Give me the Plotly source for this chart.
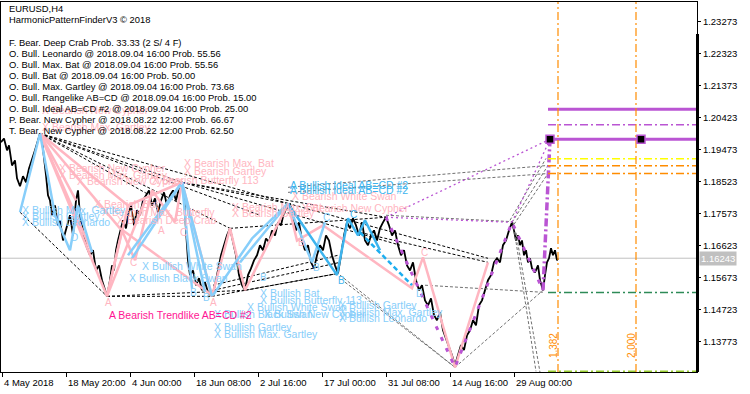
import plotly.graph_objects as go

# ---------------- data ----------------
bar_x = [1,4,7,9,12,15,17,20,23,26,29,32,35,38,40,
         42,44,46,48,50,52,55,58,60,63,66,70,73,76,78,80,83,86,90,93,96,99,102,105,107,
         110,112,114,116,118,120,123,126,128,131,134,137,140,143,146,149,152,155,158,161,164,167,170,173,176,179,182,
         184,186,188,190,193,196,199,202,205,208,212,
         215,218,221,224,227,230,233,236,239,242,245,248,251,254,257,260,263,266,269,272,275,278,281,284,287,290,
         293,296,299,302,305,308,311,314,317,320,323,326,329,332,335,338,341,344,347,350,353,356,359,362,365,368,371,374,377,380,383,386,
         389,392,395,398,401,404,407,410,413,416,419,422,425,428,431,434,437,440,443,446,449,452,455,
         458,461,464,467,470,473,476,479,482,485,488,491,494,497,500,503,506,509,512,
         514,516,518,520,522,524,526,528,530,532,535,538,540,543,545,547,549,551,553,555,557,558]
close = [1.1969,1.1980,1.1945,1.1960,1.1900,1.1915,1.1862,1.1838,1.1868,1.1850,1.1891,1.1915,1.1945,1.1975,1.1995,
         1.1975,1.1930,1.1871,1.1811,1.1796,1.1752,1.1781,1.1722,1.1737,1.1677,1.1707,1.1752,1.1692,1.1796,1.1826,1.1752,1.1707,1.1663,1.1633,1.1648,1.1588,1.1603,1.1559,1.1529,1.1511,
         1.1559,1.1603,1.1588,1.1648,1.1677,1.1701,1.1737,1.1713,1.1752,1.1781,1.1722,1.1767,1.1752,1.1796,1.1811,1.1826,1.1781,1.1802,1.1761,1.1796,1.1820,1.1781,1.1811,1.1826,1.1796,1.1832,1.1850,
         1.1811,1.1707,1.1618,1.1574,1.1588,1.1544,1.1565,1.1529,1.1553,1.1523,1.1511,
         1.1544,1.1588,1.1633,1.1663,1.1692,1.1713,1.1677,1.1633,1.1574,1.1544,1.1529,1.1574,1.1594,1.1618,1.1633,1.1663,1.1648,1.1683,1.1672,1.1707,1.1692,1.1731,1.1722,1.1761,1.1773,1.1787,
         1.1752,1.1707,1.1731,1.1677,1.1648,1.1663,1.1612,1.1594,1.1633,1.1663,1.1648,1.1692,1.1677,1.1633,1.1603,1.1579,1.1633,1.1692,1.1731,1.1713,1.1743,1.1722,1.1692,1.1731,1.1677,1.1663,1.1692,1.1707,1.1677,1.1713,1.1731,1.1746,
         1.1722,1.1692,1.1707,1.1663,1.1633,1.1648,1.1603,1.1588,1.1612,1.1559,1.1529,1.1544,1.1499,1.1484,1.1505,1.1455,1.1440,1.1464,1.1410,1.1386,1.1366,1.1336,1.1306,
         1.1336,1.1366,1.1351,1.1395,1.1410,1.1440,1.1425,1.1484,1.1499,1.1529,1.1559,1.1574,1.1612,1.1624,1.1612,1.1663,1.1677,1.1707,1.1731,
         1.1707,1.1677,1.1692,1.1663,1.1677,1.1633,1.1648,1.1612,1.1624,1.1594,1.1582,1.1603,1.1559,1.1529,1.1574,1.1612,1.1624,1.1654,1.1633,1.1648,1.1618,1.1624]

x_tick_pos = [2, 66, 130, 194, 258, 322, 386, 450, 514]
x_tick_labels = ["4 May 2018", "18 May 20:00", "4 Jun 00:00", "18 Jun 08:00", "2 Jul 16:00",
                 "17 Jul 00:00", "31 Jul 08:00", "14 Aug 16:00", "29 Aug 00:00"]
y_tick_vals = [1.23273, 1.22323, 1.21373, 1.20423, 1.19473, 1.18523, 1.17573, 1.16623, 1.15673, 1.14723, 1.13773]
y_range = [1.128605, 1.238586]
x_range = [1, 697]
current_price = 1.16243

info_lines = ["EURUSD,H4", "HarmonicPatternFinderV3 © 2018", "",
              "F. Bear. Deep Crab Prob. 33.33 (2 S/ 4 F)",
              "O. Bull. Leonardo @ 2018.09.04 16:00 Prob. 55.56",
              "O. Bull. Max. Bat @ 2018.09.04 16:00 Prob. 55.56",
              "O. Bull. Bat @ 2018.09.04 16:00 Prob. 50.00",
              "O. Bull. Max. Gartley @ 2018.09.04 16:00 Prob. 73.68",
              "O. Bull. Rangelike AB=CD @ 2018.09.04 16:00 Prob. 15.00",
              "O. Bull. Ideal AB=CD #2 @ 2018.09.04 16:00 Prob. 25.00",
              "P. Bear. New Cypher @ 2018.08.22 12:00 Prob. 66.67",
              "T. Bear. New Cypher @ 2018.08.22 12:00 Prob. 62.50"]

# bearish (pink) pattern legs
pink_x = [[40,107],[40,92],[40,76],[40,120],[40,128,182],[107,122,135,152,175,182],[107,128],[107,145],
          [120,212],[182,212,230,245,288],[288,297,323,412,423,455,488]]
pink_y = [[1.1995,1.1511],[1.1995,1.1642],[1.1995,1.1796],[1.1995,1.1713],[1.1995,1.1781,1.1850],
          [1.1511,1.1707,1.1618,1.1826,1.1731,1.1850],[1.1511,1.1781],[1.1511,1.1796],
          [1.1713,1.1514],[1.1850,1.1511,1.1713,1.1529,1.1787],[1.1787,1.1677,1.1722,1.1535,1.1627,1.1300,1.1612]]
# bullish (light blue) pattern legs
blue_x = [[20,40,55,70,78,92],[128,182],[132,182],[182,192],[182,205],[182,212],[213,252,288],[240,288],
          [288,312,325]]
blue_y = [[1.1761,1.1995,1.1752,1.1648,1.1781,1.1642],[1.1633,1.1850],[1.1624,1.1850],[1.1850,1.1535],
          [1.1850,1.1523],[1.1850,1.1511],[1.1514,1.1683,1.1787],[1.1612,1.1787],[1.1787,1.1612,1.1731]]
cyan_x = [[288,337,348,358,365,380]]
cyan_y = [[1.1787,1.1574,1.1743,1.1692,1.1737,1.1648]]
cyan_dash_x = [[360,412]]
cyan_dash_y = [[1.1701,1.1544]]
# black dashed projection lines
bdash_x = [[40,288],[40,260],[40,230],[40,182],[40,150],[20,107],[107,212],[107,245],[182,288],[182,386],
           [182,400],[212,338],[213,340],[213,338],[230,386],[288,488],[360,488],[245,338]]
bdash_y = [[1.1995,1.1787],[1.1995,1.1752],[1.1995,1.1713],[1.1995,1.1850],[1.1995,1.1811],[1.1761,1.1511],
           [1.1511,1.1511],[1.1511,1.1529],[1.1850,1.1787],[1.1850,1.1746],[1.1850,1.1663],[1.1511,1.1579],
           [1.1529,1.1612],[1.1544,1.1633],[1.1713,1.1746],[1.1787,1.1624],[1.1701,1.1612],[1.1529,1.1579]]
# gray dashed projection lines
gdash_x = [[288,548],[288,548],[514,548],[512,548],[510,546],[513,536],[516,540],[455,543],[425,543],
           [340,455],[345,455],[386,512]]
gdash_y = [[1.1835,1.1900],[1.1820,1.1876],[1.1725,1.1876],[1.1731,1.1900],[1.1737,1.1921],[1.1731,1.1288],
           [1.1700,1.1285],[1.1300,1.1529],[1.1544,1.1523],[1.1574,1.1300],[1.1553,1.1300],[1.1752,1.1733]]
# purple (current pattern) legs
purple_dot_x = [[386,550],[386,512],[512,550]]
purple_dot_y = [[1.1746,1.1978],[1.1746,1.1731],[1.1731,1.1978]]
purple_leg_x = [386,455,512,543]
purple_leg_y = [1.1746,1.1300,1.1731,1.1529]
purple_d_x = [543,550]
purple_d_y = [1.1529,1.1978]
square_x = [550, 641]
square_y = [1.1978, 1.1978]

# horizontal levels (price, colour, width, dash)
level_start = 548
level_prices = [1.2067, 1.2021, 1.1978, 1.1920, 1.1899, 1.1876, 1.1522, 1.1288]
level_colors = ["#BA55D3", "#BA55D3", "#BA55D3", "#FFFF00", "#FF8C00", "#FF8C00", "#2E8B57", "#9ACD32"]
level_widths = [3, 1.5, 3, 1.5, 1.5, 1.5, 1.5, 1.5]
level_dash = ["solid", "dd", "solid", "dd", "dd", "dd", "dd", "dd"]
fib_x = [558, 636]
fib_labels = ["1.382", "2.000"]
fib_label_x = [553, 631]
fib_label_y = 1.1363

# pattern text labels
pink_labels = [("X Bearish New Cypher", 40, 1.2064), ("X Bearish Max. Gartley", 40, 1.2013),
               ("X Bearish New Cypher", 57, 1.1891), ("X Bearish Max. Gartley", 57, 1.1871),
               ("X Bearish New Cypher", 75, 1.1853), ("X Bearish Butterfly 113", 150, 1.1856),
               ("X Bearish Max. Bat", 182, 1.1906), ("X Bearish Gartley", 182, 1.1885),
               ("X Bearish Bat", 92, 1.1784), ("X Bearish Max. Butterfly", 100, 1.1761),
               ("X Bearish Deep Crab", 115, 1.1737), ("X Bearish Max. Bat", 230, 1.1778),
               ("X Bearish Gartley", 230, 1.1760), ("X Bearish White Swan", 290, 1.1808),
               ("X Bearish New Cypher", 300, 1.1775)]
blue_labels = [("X Bullish Max. Gartley", 20, 1.1767), ("X Bullish Gartley", 20, 1.1749),
               ("X Bullish Leonardo", 20, 1.1731), ("X Bullish White Swan", 140, 1.1600),
               ("X Bullish Black Swan", 127, 1.1565), ("X Bullish Bat", 258, 1.1520),
               ("X Bullish Butterfly 113", 258, 1.1499), ("X Bullish White Swan", 245, 1.1478),
               ("X Bullish Black Swan", 212, 1.1458), ("X Bullish New Cypher", 262, 1.1458),
               ("X Bullish Gartley", 212, 1.1419), ("X Bullish Max. Gartley", 212, 1.1398),
               ("X Bullish Gartley", 337, 1.1484), ("X Bullish Max. Gartley", 337, 1.1464),
               ("X Bullish Leonardo", 337, 1.1446)]
cyan_labels = [("A Bullish Ideal AB=CD #2", 288, 1.1841), ("A Bullish Ideal AB=CD #2", 288, 1.1826)]
deep_pink_labels = [("A Bearish Trendlike AB=CD #2", 107, 1.1455)]
pink_letters = [("A", 107, 1.1493), ("A", 212, 1.1493), ("C", 182, 1.1701), ("A", 160, 1.1707), ("C", 132, 1.1612),
                ("B", 300, 1.1670), ("C", 423, 1.1640)]
blue_letters = [("D", 73, 1.1686), ("B", 192, 1.1523), ("B", 205, 1.1508), ("B", 262, 1.1568), ("B", 315, 1.1597),
                ("C", 325, 1.1745), ("D", 418, 1.1520)]
cyan_letters = [("B", 340, 1.1559), ("C", 352, 1.1755)]

# ---------------- figure ----------------
W, H = 750, 394
ML, MR, MT, MB = 1, 53, 2, 22
PW, PH = W - ML - MR, H - MT - MB
FONT = "Liberation Sans, Arial, sans-serif"
DD = "8px,3px,2px,3px"

fig = go.Figure()

def lines(xl, yl, color, width, dash="solid"):
    for xs, ys in zip(xl, yl):
        fig.add_trace(go.Scatter(x=xs, y=ys, mode="lines", hoverinfo="skip", showlegend=False,
                                 line=dict(color=color, width=width, dash=dash)))

# current price line
fig.add_trace(go.Scatter(x=x_range, y=[current_price, current_price], mode="lines", hoverinfo="skip",
                         showlegend=False, line=dict(color="#C0C0C0", width=1)))
# price
fig.add_trace(go.Scatter(x=bar_x, y=close, mode="lines", hoverinfo="skip", showlegend=False,
                         line=dict(color="black", width=1.8)))

lines(bdash_x, bdash_y, "black", 1, "3px,2px")
lines(gdash_x, gdash_y, "#707070", 1, "3px,2px")
lines(pink_x, pink_y, "#FFB6C1", 2.5)
lines(blue_x, blue_y, "#87CEFA", 2.5)
lines(cyan_x, cyan_y, "#3DB4EE", 2.5)
lines(cyan_dash_x, cyan_dash_y, "#1EAEF0", 2.5, "5px,3px")
lines(purple_dot_x, purple_dot_y, "#BA55D3", 1.3, "2px,3px")
lines([purple_leg_x], [purple_leg_y], "#BA55D3", 3, "4px,8px")
lines([purple_d_x], [purple_d_y], "#BA55D3", 3.5, DD)

for p, c, w, d in zip(level_prices, level_colors, level_widths, level_dash):
    lines([[level_start, x_range[1]]], [[p, p]], c, w, DD if d == "dd" else d)
for fx in fib_x:
    lines([[fx, fx]], [y_range], "#FF8C00", 1.2, DD)

fig.add_trace(go.Scatter(x=square_x, y=square_y, mode="markers", hoverinfo="skip", showlegend=False,
                         marker=dict(symbol="square", size=8, color="black",
                                     line=dict(color="#BA55D3", width=1.5))))

ann = []
def txt(t, x, y, color, size=10.5, **kw):
    ann.append(dict(text=t, x=x, y=y, xref="x", yref="y", showarrow=False, xanchor="left",
                    yanchor="middle", font=dict(family=FONT, size=size, color=color), **kw))

for t, x, y in pink_labels:
    txt(t, x, y, "#FFB6C1")
for t, x, y in blue_labels:
    txt(t, x, y, "#87CEFA")
for t, x, y in cyan_labels:
    txt(t, x, y, "#3DB4EE")
for t, x, y in deep_pink_labels:
    txt(t, x, y, "#FF1493")
for t, x, y in pink_letters:
    txt(t, x, y, "#FFB6C1", size=10, xshift=-4)
for t, x, y in blue_letters:
    txt(t, x, y, "#87CEFA", size=10, xshift=-4)
for t, x, y in cyan_letters:
    txt(t, x, y, "#3DB4EE", size=10, xshift=-4)

for t, fx in zip(fib_labels, fib_label_x):
    ann.append(dict(text=t, x=fx, y=fib_label_y, xref="x", yref="y", showarrow=False, textangle=-90,
                    font=dict(family=FONT, size=10, color="#FF8C00")))

# info block (top-left)
info_y_px = [8.3, 20, 31.5, 42.7, 53.6, 64.6, 75.6, 86.6, 97.6, 108.6, 119.4, 130.2]
for t, yp in zip(info_lines, info_y_px):
    if t:
        ann.append(dict(text=t, x=(7 - ML) / PW, y=1 - (yp - MT) / PH, xref="paper", yref="paper",
                        showarrow=False, xanchor="left", yanchor="middle",
                        font=dict(family=FONT, size=9.4, color="black")))

# x axis labels, left aligned at ticks like MT4
for t, xp in zip(x_tick_labels, x_tick_pos):
    ann.append(dict(text=t, x=xp, y=-(382 - 372) / PH, xref="x", yref="paper", showarrow=False,
                    xanchor="left", yanchor="middle", font=dict(family=FONT, size=9.5, color="black")))

# current price tag
ann.append(dict(text=f"{current_price:.5f}", x=1, y=current_price, xref="paper", yref="y", showarrow=False,
                xanchor="left", yanchor="middle", xshift=2, bgcolor="#C0C0C0", borderpad=1,
                font=dict(family=FONT, size=9.5, color="white")))

shapes = [dict(type="rect", xref="paper", yref="paper", x0=1 - 1 / PW, x1=1 + 2 / PW,
               y0=0, y1=1 - (34 - MT) / PH, fillcolor="black", line=dict(width=0))]

fig.update_layout(
    width=W, height=H, margin=dict(l=ML, r=MR, t=MT, b=MB),
    paper_bgcolor="white", plot_bgcolor="white",
    annotations=ann, shapes=shapes, showlegend=False,
    xaxis=dict(range=x_range, showgrid=False, zeroline=False, tickvals=x_tick_pos, ticktext=[""] * len(x_tick_pos),
               ticks="outside", ticklen=4, tickcolor="black", showline=True, mirror=True,
               linecolor="black", linewidth=1),
    yaxis=dict(range=y_range, side="right", showgrid=False, zeroline=False, tickvals=y_tick_vals,
               ticktext=[f"{v:.5f}" for v in y_tick_vals], ticks="outside", ticklen=3, tickcolor="black",
               tickfont=dict(family=FONT, size=9.5, color="black"), showline=True, mirror=True,
               linecolor="black", linewidth=1),
)

fig.write_html("out.html", config={"displayModeBar": False},
               post_script="document.body.style.margin='0';document.body.style.overflow='hidden';")
